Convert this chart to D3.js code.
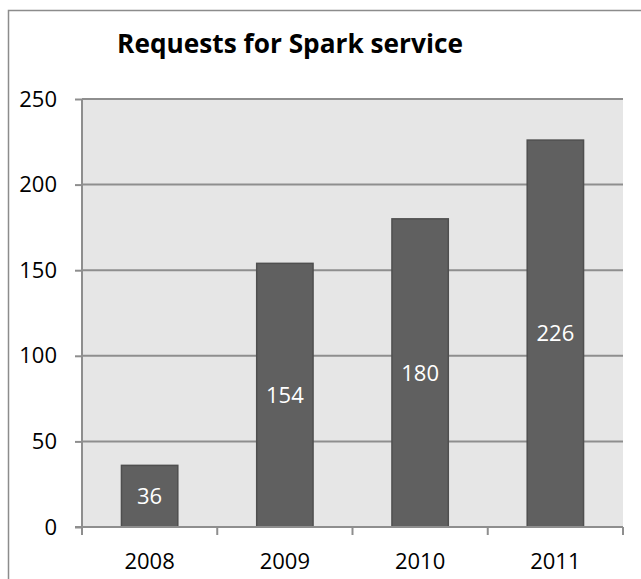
<!DOCTYPE html>
<html>
<head>
<meta charset="utf-8">
<script src="https://cdn.jsdelivr.net/npm/d3@7"></script>
<style>
  body { margin: 0; background: #fff; }
  text { font-family: "Open Sans", "Liberation Sans", Arial, sans-serif; }
</style>
</head>
<body>
<svg class="chart"></svg>
<script>
const years = ['2008', '2009', '2010', '2011'];
const requests = [36, 154, 180, 226];
const yTicks = [0, 50, 100, 150, 200, 250];
const title = 'Requests for Spark service';

const [width, height] = [641, 579];
const font = '"Open Sans", "Liberation Sans", Arial, sans-serif';
const svg = d3.select('.chart').attr('width', width).attr('height', height);

// frame (only left and top edges visible in the crop)
svg.append('path')
  .attr('d', `M8.5,${height}V10.5H${width}`)
  .attr('fill', 'none')
  .attr('stroke', '#8c8c8c')
  .attr('stroke-width', 1.5);

const plot = { left: 82, right: 623, top: 99, bottom: 527 };

const x = d3.scaleBand().domain(years).range([plot.left, plot.right]);
const y = d3.scaleLinear().domain([0, 250]).range([plot.bottom, plot.top]);
const barW = x.bandwidth() / 2.4;

svg.append('rect')
  .attr('x', plot.left).attr('y', plot.top)
  .attr('width', plot.right - plot.left).attr('height', plot.bottom - plot.top)
  .attr('fill', '#e6e6e6');

// gridlines
svg.append('g')
  .selectAll('line')
  .data(yTicks.filter(t => t > 0))
  .enter()
  .append('line')
  .attr('x1', plot.left).attr('x2', plot.right)
  .attr('y1', d => y(d)).attr('y2', d => y(d))
  .attr('stroke', '#8e8e8e')
  .attr('stroke-width', 2);

// bars
svg.append('g')
  .selectAll('rect')
  .data(requests)
  .enter()
  .append('rect')
  .attr('x', (d, i) => x(years[i]) + (x.bandwidth() - barW) / 2)
  .attr('y', d => y(d))
  .attr('width', barW)
  .attr('height', d => y(0) - y(d))
  .attr('fill', '#606060')
  .attr('stroke', '#4f4f4f')
  .attr('stroke-width', 1.5);

// bar labels
svg.append('g')
  .selectAll('text')
  .data(requests)
  .enter()
  .append('text')
  .attr('x', (d, i) => x(years[i]) + x.bandwidth() / 2)
  .attr('y', d => (y(d) + y(0)) / 2)
  .attr('dy', '0.36em')
  .attr('text-anchor', 'middle')
  .attr('fill', '#fff')
  .attr('font-size', 22)
  .text(d => d);

// y axis
const yAxis = svg.append('g')
  .attr('transform', `translate(${plot.left},0)`)
  .call(d3.axisLeft(y).tickValues(yTicks).tickSize(7).tickPadding(18));
yAxis.select('.domain').attr('stroke', '#8e8e8e').attr('stroke-width', 2)
  .attr('d', `M0,${plot.top}V${plot.bottom}`);
yAxis.selectAll('.tick line').attr('stroke', '#8e8e8e').attr('stroke-width', 2);
yAxis.selectAll('.tick text').attr('font-size', 22).attr('fill', '#000')
  .attr('font-family', font);

// x axis with ticks on category boundaries
const xAxis = svg.append('g')
  .attr('transform', `translate(0,${plot.bottom})`);
xAxis.append('line')
  .attr('x1', plot.left - 7).attr('x2', plot.right)
  .attr('stroke', '#8e8e8e').attr('stroke-width', 2);
xAxis.selectAll('.bound')
  .data(years.concat(['end']))
  .enter()
  .append('line')
  .attr('x1', (d, i) => i < years.length ? x(d) : plot.right)
  .attr('x2', (d, i) => i < years.length ? x(d) : plot.right)
  .attr('y1', 0).attr('y2', 8)
  .attr('stroke', '#8e8e8e').attr('stroke-width', 2);
xAxis.selectAll('text')
  .data(years)
  .enter()
  .append('text')
  .attr('x', d => x(d) + x.bandwidth() / 2)
  .attr('y', 34)
  .attr('dy', '0.36em')
  .attr('text-anchor', 'middle')
  .attr('font-size', 22)
  .text(d => d);

// title, scaled to the width it has in the reference
const t = svg.append('text')
  .attr('x', 290)
  .attr('y', 53)
  .attr('text-anchor', 'middle')
  .attr('font-weight', 'bold')
  .attr('font-size', 26)
  .text(title);
const w = t.node().getComputedTextLength();
t.attr('font-size', 26 * 346 / w);
</script>
</body>
</html>
